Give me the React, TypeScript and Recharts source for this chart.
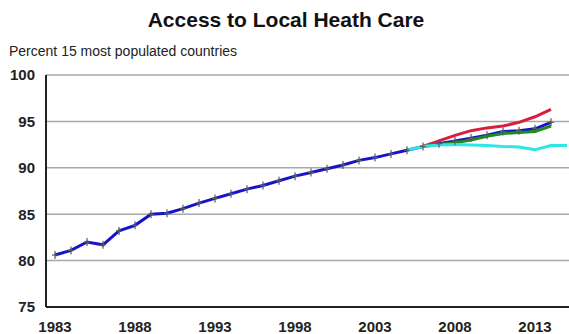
import React from "react";
import { LineChart, Line, XAxis, YAxis, CartesianGrid } from "recharts";

// Years on the horizontal axis
const years: number[] = [
  1983, 1984, 1985, 1986, 1987, 1988, 1989, 1990, 1991, 1992, 1993,
  1994, 1995, 1996, 1997, 1998, 1999, 2000, 2001, 2002, 2003, 2004,
  2005, 2006, 2007, 2008, 2009, 2010, 2011, 2012, 2013, 2014, 2015,
];

// Base series (1983-2014), percent
const baseValues: (number | null)[] = [
  80.6, 81.1, 82.0, 81.7, 83.2, 83.8, 85.0, 85.1, 85.6, 86.2, 86.7,
  87.2, 87.7, 88.1, 88.6, 89.1, 89.5, 89.9, 90.3, 90.8, 91.1, 91.5,
  91.9, 92.3, 92.6, 92.9, 93.2, 93.5, 93.9, 94.0, 94.2, 94.9, null,
];

// High scenario (2006-2014)
const highYears: number[] = [2006, 2007, 2008, 2009, 2010, 2011, 2012, 2013, 2014];
const highValues: number[] = [92.3, 92.9, 93.5, 94.0, 94.3, 94.5, 94.9, 95.5, 96.3];

// Middle scenario (2006-2014)
const midYears: number[] = [2006, 2007, 2008, 2009, 2010, 2011, 2012, 2013, 2014];
const midValues: number[] = [92.3, 92.5, 92.7, 93.0, 93.4, 93.7, 93.8, 93.9, 94.5];

// Low scenario (2005-2015)
const lowYears: number[] = [2005, 2006, 2007, 2008, 2009, 2010, 2011, 2012, 2013, 2014, 2015];
const lowValues: number[] = [91.9, 92.3, 92.45, 92.5, 92.45, 92.4, 92.3, 92.25, 91.95, 92.4, 92.4];

const yTicks: number[] = [75, 80, 85, 90, 95, 100];
const xTicks: number[] = [1983, 1988, 1993, 1998, 2003, 2008, 2013];

const pick = (ys: number[], vs: number[], y: number) => {
  const i = ys.indexOf(y);
  return i >= 0 ? vs[i] : null;
};

const data = years.map((year, i) => ({
  year,
  base: baseValues[i],
  high: pick(highYears, highValues, year),
  mid: pick(midYears, midValues, year),
  low: pick(lowYears, lowValues, year),
}));

const PlusMarker = (props: any) => {
  const { cx, cy, value } = props;
  if (value == null || cx == null || cy == null) return <g />;
  return (
    <g>
      <line x1={cx} y1={cy - 4} x2={cx} y2={cy + 4} stroke="#5a5a5a" strokeWidth={1.2} />
      <line x1={cx - 3} y1={cy} x2={cx + 3} y2={cy} stroke="#5a5a5a" strokeWidth={1.2} />
    </g>
  );
};

const font = "'Liberation Sans', Arial, sans-serif";

export default function App() {
  return (
    <div
      style={{
        position: "absolute",
        left: 0,
        top: 0,
        width: 569,
        height: 334,
        background: "#ffffff",
        fontFamily: font,
      }}
    >
      <div
        style={{
          position: "absolute",
          left: 0,
          width: 572,
          top: 9,
          textAlign: "center",
          fontSize: 21,
          lineHeight: "21px",
          fontWeight: "bold",
          color: "#111",
        }}
      >
        Access to Local Heath Care
      </div>
      <div
        style={{
          position: "absolute",
          left: 9,
          top: 44,
          fontSize: 14,
          lineHeight: "14px",
          color: "#222",
        }}
      >
        Percent 15 most populated countries
      </div>
      <div style={{ position: "absolute", left: 0, top: 0 }}>
        <LineChart
          width={569}
          height={334}
          data={data}
          margin={{ top: 75, right: 0, bottom: 0, left: 0 }}
        >
          <CartesianGrid
            vertical={false}
            stroke="#a8a8a8"
            strokeWidth={1.5}
          />
          <XAxis
            dataKey="year"
            type="number"
            domain={[1983, 2015]}
            ticks={xTicks}
            padding={{ left: 9, right: 2 }}
            height={27}
            tickSize={0}
            tickMargin={14}
            axisLine={{ stroke: "#222", strokeWidth: 2 }}
            tick={{ fill: "#222", fontSize: 15, fontWeight: "bold", fontFamily: font }}
            allowDecimals={false}
          />
          <YAxis
            type="number"
            domain={[75, 100]}
            ticks={yTicks}
            width={46}
            tickSize={0}
            tickMargin={11}
            axisLine={{ stroke: "#222", strokeWidth: 2 }}
            tick={{ fill: "#222", fontSize: 15, fontWeight: "bold", fontFamily: font }}
          />
          <Line
            dataKey="base"
            stroke="#1414cc"
            strokeWidth={3}
            dot={false}
            isAnimationActive={false}
          />
          <Line
            dataKey="high"
            stroke="#d61f3f"
            strokeWidth={3}
            dot={false}
            isAnimationActive={false}
          />
          <Line
            dataKey="mid"
            stroke="#1f8c22"
            strokeWidth={3}
            dot={false}
            isAnimationActive={false}
          />
          <Line
            dataKey="low"
            stroke="#2ee6e6"
            strokeWidth={3}
            dot={false}
            isAnimationActive={false}
          />
          <Line
            dataKey="base"
            stroke="none"
            dot={<PlusMarker />}
            activeDot={false}
            isAnimationActive={false}
          />
        </LineChart>
      </div>
    </div>
  );
}
